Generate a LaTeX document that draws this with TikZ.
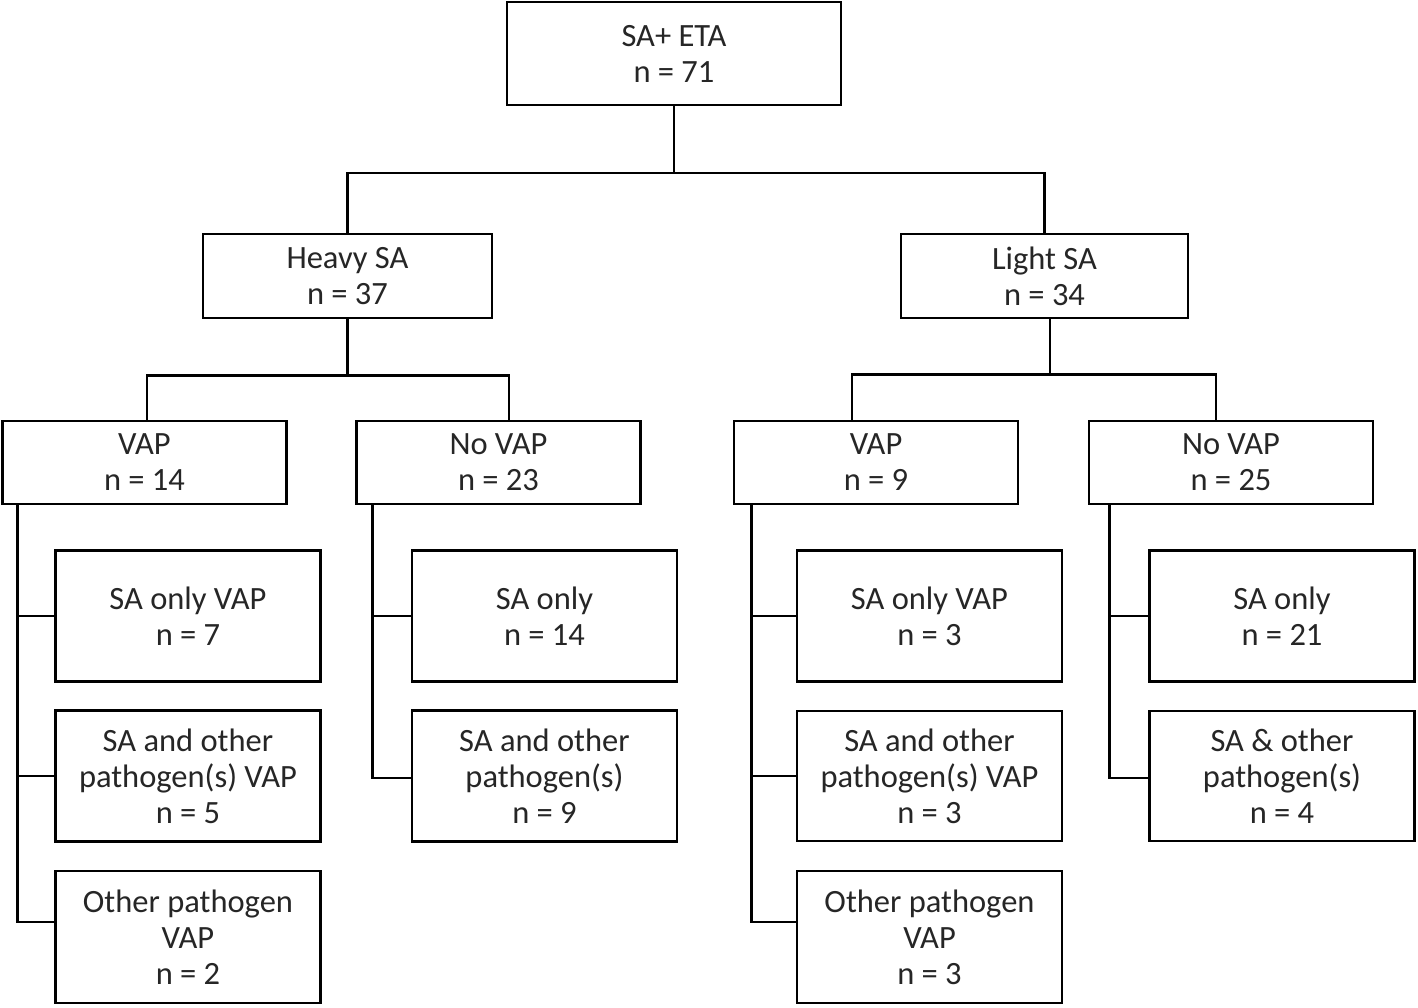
\documentclass[tikz,border=0pt]{standalone}
\usepackage{fontspec}
\setmainfont{Carlito}
\begin{document}
\begin{tikzpicture}[x=1pt,y=-1pt,
  box/.style={draw=black, line width=2.6pt, fill=white, align=center, inner sep=0pt,
    text=black!85, font=\fontsize{32.5}{36}\selectfont},
  conn/.style={draw=black, line width=2.6pt},
  sub/.style={box, minimum width=265pt},
  mid/.style={box, minimum width=284pt, minimum height=83pt}]
\useasboundingbox (0,0) rectangle (1418,1007);
% level 0
\node[box, minimum width=334pt, minimum height=103pt] (top) at (674,53.5) {SA+ ETA\\n = 71};
% level 1
\node[box, minimum width=289pt, minimum height=84pt] (heavy) at (347.5,276) {Heavy SA\\n = 37};
\node[box, minimum width=287pt, minimum height=84pt] (light) at (1044.5,276) {Light SA\\n = 34};
% level 2
\node[mid] (vapL) at (144.5,462.5) {VAP\\n = 14};
\node[mid] (novapL) at (498.5,462.5) {No VAP\\n = 23};
\node[mid] (vapR) at (876,462.5) {VAP\\n = 9};
\node[mid] (novapR) at (1231,462.5) {No VAP\\n = 25};
% level 3
\node[sub, minimum height=131pt] (a1) at (188,616) {SA only VAP\\n = 7};
\node[sub, minimum height=131pt] (a2) at (188,776) {SA and other\\pathogen(s) VAP\\n = 5};
\node[sub, minimum height=132pt] (a3) at (188,937) {Other pathogen\\VAP\\n = 2};
\node[sub, minimum height=131pt] (b1) at (544.5,616) {SA only\\n = 14};
\node[sub, minimum height=131pt] (b2) at (544.5,776) {SA and other\\pathogen(s)\\n = 9};
\node[sub, minimum height=131pt] (c1) at (929.5,616) {SA only VAP\\n = 3};
\node[sub, minimum height=130pt] (c2) at (929.5,776) {SA and other\\pathogen(s) VAP\\n = 3};
\node[sub, minimum height=132pt] (c3) at (929.5,937) {Other pathogen\\VAP\\n = 3};
\node[sub, minimum height=131pt] (d1) at (1282,616) {SA only\\n = 21};
\node[sub, minimum height=130pt] (d2) at (1282,776) {SA \& other\\pathogen(s)\\n = 4};
% connectors level 0 -> 1
\draw[conn] (top.south) -- (674,173) coordinate (j0);
\draw[conn] (heavy.north) |- (j0) -| (light.north);
% level 1 -> 2
\draw[conn] (heavy.south) -- ++(0,56) coordinate (j1);
\draw[conn] ([xshift=2.5pt]vapL.north) |- (j1) -| ([xshift=10.5pt]novapL.north);
\draw[conn] ([xshift=5.5pt]light.south) -- ++(0,55) coordinate (j2);
\draw[conn] ([xshift=-24pt]vapR.north) |- (j2) -| ([xshift=-15pt]novapR.north);
% level 2 -> 3
\draw[conn] ([xshift=16pt]vapL.south west) coordinate (vL) |- ([yshift=15pt]a3.west);
\draw[conn] (a1.west) -- (a1.west -| vL);
\draw[conn] (a2.west) -- (a2.west -| vL);
\draw[conn] ([xshift=17pt]novapL.south west) coordinate (nL) |- ([yshift=-2pt]b2.west);
\draw[conn] (b1.west) -- (b1.west -| nL);
\draw[conn] ([xshift=19pt]vapR.south west) coordinate (vR) |- ([yshift=15pt]c3.west);
\draw[conn] (c1.west) -- (c1.west -| vR);
\draw[conn] (c2.west) -- (c2.west -| vR);
\draw[conn] ([xshift=22pt]novapR.south west) coordinate (nR) |- ([yshift=-2pt]d2.west);
\draw[conn] (d1.west) -- (d1.west -| nR);
\end{tikzpicture}
\end{document}
